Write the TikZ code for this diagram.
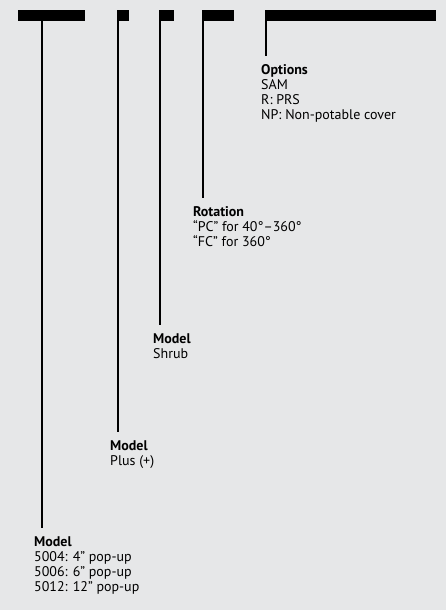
\documentclass[tikz,border=0pt]{standalone}
\usepackage{fontspec}
\setmainfont{PT Sans}
\usepackage{xcolor}
\usepackage{tikz}
\usetikzlibrary{positioning}
\definecolor{bgray}{HTML}{E6E7E8}

\begin{document}
\begin{tikzpicture}[x=1pt, y=-1pt,
    bar/.style={rectangle, fill=black, minimum height=11pt, inner sep=0pt, anchor=north west},
    lbl/.style={anchor=north west, align=left, inner sep=0pt, font=\fontsize{14}{15.2}\selectfont},
    lead/.style={draw=black, line width=1.3pt}
]
\fill[bgray] (0,0) rectangle (446,610);

% bars of the code
\node[bar, minimum width=67pt] (barmodel) at (18,10) {};
\node[bar, minimum width=12pt] (barplus) at (117,10) {};
\node[bar, minimum width=15pt] (barshrub) at (159,10) {};
\node[bar, minimum width=32pt] (barrot) at (202,10) {};
\node[bar, minimum width=171pt] (baropt) at (265,10) {};

% lead ends
\coordinate (endmodel) at (42,528);
\coordinate (endplus) at (118,432);
\coordinate (endshrub) at (160,325);
\coordinate (endrot) at (203,198);
\coordinate (endopt) at (266,56);

% labels
\node[lbl] (lblmodel) at (34,536) {\textbf{Model}\\5004: 4" pop-up\\5006: 6" pop-up\\5012: 12" pop-up};
\node[lbl] (lblplus) at (110,440) {\textbf{Model}\\Plus (+)};
\node[lbl] (lblshrub) at (153,333) {\textbf{Model}\\Shrub};
\node[lbl] (lblrot) at (193,206) {\textbf{Rotation}\\“PC” for 40°–360°\\“FC” for 360°};
\node[lbl] (lblopt) at (261,64) {\textbf{Options}\\SAM\\R: PRS\\NP: Non-potable cover};

% leads
\draw[lead] (barmodel.south -| endmodel) -- (endmodel);
\draw[lead] (barplus.south -| endplus) -- (endplus);
\draw[lead] (barshrub.south -| endshrub) -- (endshrub);
\draw[lead] (barrot.south -| endrot) -- (endrot);
\draw[lead] (baropt.south -| endopt) -- (endopt);

\end{tikzpicture}
\end{document}
